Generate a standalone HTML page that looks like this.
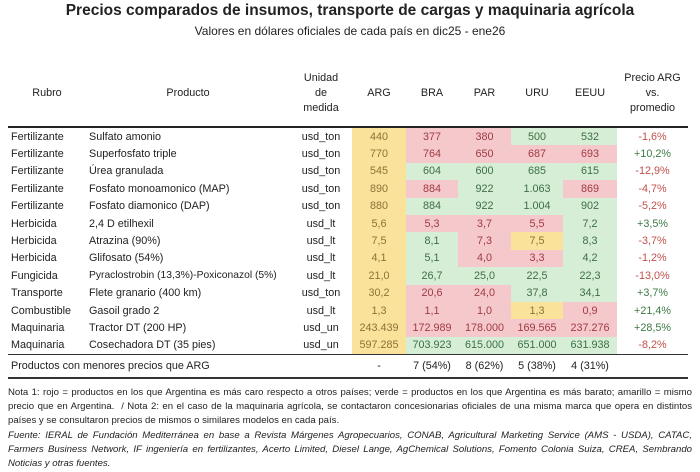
<!DOCTYPE html>
<html><head><meta charset="utf-8"><style>
body{margin:0;width:700px;height:467px;background:#fff;font-family:"Liberation Sans",sans-serif;color:#222;position:relative;overflow:hidden}
.t{position:absolute;left:0;width:700px;text-align:center}
table{position:absolute;left:8px;top:60px;width:680px;border-collapse:collapse;table-layout:fixed;font-size:10.8px}
td{padding:0;height:17.4px;text-align:center;white-space:nowrap}
td.l{text-align:left;padding-left:3px}
thead td{height:66px;border-bottom:2px solid #222;line-height:15px;font-size:10.8px}
.y{background:#fbe29a;color:#8a7335}
.r{background:#f5c9cb;color:#a03a44}
.g{background:#d6eed6;color:#3d6e45}
.n{color:#c0504d}.p{color:#3d7a45}
tr.s td{height:22px;border-top:1.5px solid #333;border-bottom:2.5px solid #333}
.note{position:absolute;left:8px;width:684px;font-size:9.6px;line-height:14.2px;color:#222;text-align:justify}
</style></head><body>
<div class="t" style="top:2px;font-size:15.5px;font-weight:bold">Precios comparados de insumos, transporte de cargas y maquinaria agrícola</div>
<div class="t" style="top:24px;font-size:12px">Valores en dólares oficiales de cada país en dic25 - ene26</div>
<table>
<colgroup><col style="width:78px"><col style="width:204px"><col style="width:62px"><col style="width:54px"><col style="width:52px"><col style="width:53px"><col style="width:52px"><col style="width:54px"><col style="width:71px"></colgroup>
<thead><tr><td>Rubro</td><td>Producto</td><td>Unidad<br>de<br>medida</td><td>ARG</td><td>BRA</td><td>PAR</td><td>URU</td><td>EEUU</td><td>Precio ARG<br>vs.<br>promedio</td></tr></thead>
<tbody>
<tr><td class="l">Fertilizante</td><td class="l">Sulfato amonio</td><td>usd_ton</td><td class="y">440</td><td class="r">377</td><td class="r">380</td><td class="g">500</td><td class="g">532</td><td class="n">-1,6%</td></tr>
<tr><td class="l">Fertilizante</td><td class="l">Superfosfato triple</td><td>usd_ton</td><td class="y">770</td><td class="r">764</td><td class="r">650</td><td class="r">687</td><td class="r">693</td><td class="p">+10,2%</td></tr>
<tr><td class="l">Fertilizante</td><td class="l">Úrea granulada</td><td>usd_ton</td><td class="y">545</td><td class="g">604</td><td class="g">600</td><td class="g">685</td><td class="g">615</td><td class="n">-12,9%</td></tr>
<tr><td class="l">Fertilizante</td><td class="l">Fosfato monoamonico (MAP)</td><td>usd_ton</td><td class="y">890</td><td class="r">884</td><td class="g">922</td><td class="g">1.063</td><td class="r">869</td><td class="n">-4,7%</td></tr>
<tr><td class="l">Fertilizante</td><td class="l">Fosfato diamonico (DAP)</td><td>usd_ton</td><td class="y">880</td><td class="g">884</td><td class="g">922</td><td class="g">1.004</td><td class="g">902</td><td class="n">-5,2%</td></tr>
<tr><td class="l">Herbicida</td><td class="l">2,4 D etilhexil</td><td>usd_lt</td><td class="y">5,6</td><td class="r">5,3</td><td class="r">3,7</td><td class="r">5,5</td><td class="g">7,2</td><td class="p">+3,5%</td></tr>
<tr><td class="l">Herbicida</td><td class="l">Atrazina (90%)</td><td>usd_lt</td><td class="y">7,5</td><td class="g">8,1</td><td class="r">7,3</td><td class="y">7,5</td><td class="g">8,3</td><td class="n">-3,7%</td></tr>
<tr><td class="l">Herbicida</td><td class="l">Glifosato (54%)</td><td>usd_lt</td><td class="y">4,1</td><td class="g">5,1</td><td class="r">4,0</td><td class="r">3,3</td><td class="g">4,2</td><td class="n">-1,2%</td></tr>
<tr><td class="l">Fungicida</td><td class="l" style="font-size:10.3px">Pyraclostrobin (13,3%)-Poxiconazol (5%)</td><td>usd_lt</td><td class="y">21,0</td><td class="g">26,7</td><td class="g">25,0</td><td class="g">22,5</td><td class="g">22,3</td><td class="n">-13,0%</td></tr>
<tr><td class="l">Transporte</td><td class="l">Flete granario (400 km)</td><td>usd_ton</td><td class="y">30,2</td><td class="r">20,6</td><td class="r">24,0</td><td class="g">37,8</td><td class="g">34,1</td><td class="p">+3,7%</td></tr>
<tr><td class="l">Combustible</td><td class="l">Gasoil grado 2</td><td>usd_lt</td><td class="y">1,3</td><td class="r">1,1</td><td class="r">1,0</td><td class="y">1,3</td><td class="r">0,9</td><td class="p">+21,4%</td></tr>
<tr><td class="l">Maquinaria</td><td class="l">Tractor DT (200 HP)</td><td>usd_un</td><td class="y">243.439</td><td class="r">172.989</td><td class="r">178.000</td><td class="r">169.565</td><td class="r">237.276</td><td class="p">+28,5%</td></tr>
<tr><td class="l">Maquinaria</td><td class="l">Cosechadora DT (35 pies)</td><td>usd_un</td><td class="y">597.285</td><td class="g">703.923</td><td class="g">615.000</td><td class="g">651.000</td><td class="g">631.938</td><td class="n">-8,2%</td></tr>
<tr class="s"><td class="l" colspan="3">Productos con menores precios que ARG</td><td>-</td><td>7 (54%)</td><td>8 (62%)</td><td>5 (38%)</td><td>4 (31%)</td><td></td></tr>
</tbody></table>
<div class="note" style="top:386px">Nota 1: rojo = productos en los que Argentina es más caro respecto a otros países; verde = productos en los que Argentina es más barato; amarillo = mismo precio que en Argentina. &nbsp;/ Nota 2: en el caso de la maquinaria agrícola, se contactaron concesionarias oficiales de una misma marca que opera en distintos países y se consultaron precios de mismos o similares modelos en cada país.</div>
<div class="note" style="top:429px;font-style:italic">Fuente: IERAL de Fundación Mediterránea en base a Revista Márgenes Agropecuarios, CONAB, Agricultural Marketing Service (AMS - USDA), CATAC, Farmers Business Network, IF ingeniería en fertilizantes, Acerto Limited, Diesel Lange, AgChemical Solutions, Fomento Colonia Suiza, CREA, Sembrando Noticias y otras fuentes.</div>
</body></html>
